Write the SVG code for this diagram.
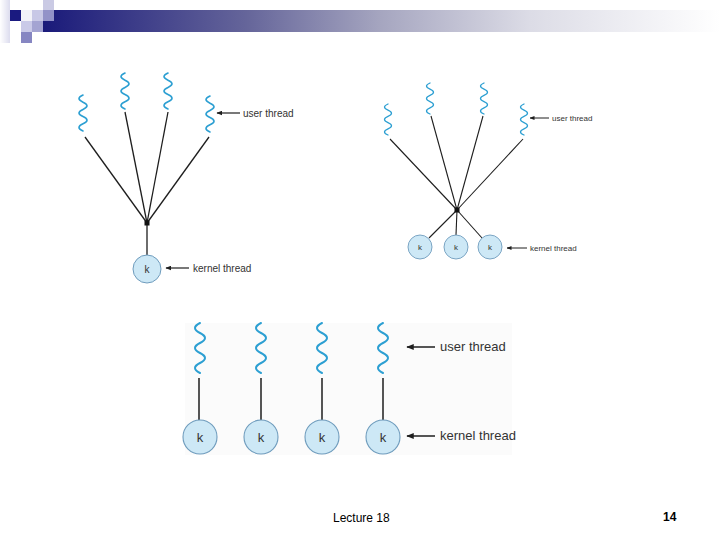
<svg xmlns="http://www.w3.org/2000/svg" width="720" height="540" viewBox="0 0 720 540">
<style>
.wave{fill:none;stroke:#2c9fd2;stroke-linecap:round}
.ln{stroke:#1e1e1e;fill:none}
.kc{fill:#cde8f6;stroke:#6f9cbd}
.lbl{font-family:"Liberation Sans",Arial,sans-serif;fill:#333}
.kt{font-family:"Liberation Sans",Arial,sans-serif;fill:#333;text-anchor:middle}
.arr{stroke:#1e1e1e;fill:none}
</style>
<defs>
<linearGradient id="bar" x1="0" y1="0" x2="1" y2="0">
<stop offset="0" stop-color="#1a1a7a"/>
<stop offset="0.3" stop-color="#65659a"/>
<stop offset="0.5" stop-color="#a6a6c0"/>
<stop offset="0.72" stop-color="#dcdce6"/>
<stop offset="1" stop-color="#ffffff"/>
</linearGradient>
<linearGradient id="lft" x1="0" y1="0" x2="1" y2="0">
<stop offset="0" stop-color="#ffffff"/>
<stop offset="1" stop-color="#dcdcee"/>
</linearGradient>
<marker id="ah" viewBox="0 0 10 8" refX="9" refY="4" markerWidth="5" markerHeight="4" orient="auto" markerUnits="userSpaceOnUse">
<path d="M0,0 L10,4 L0,8 Z" fill="#1e1e1e"/>
</marker>
<marker id="ahL" viewBox="0 0 10 8" refX="9" refY="4" markerWidth="8" markerHeight="6" orient="auto" markerUnits="userSpaceOnUse">
<path d="M0,0 L10,4 L0,8 Z" fill="#1e1e1e"/>
</marker>
<marker id="ahM" viewBox="0 0 10 8" refX="9" refY="4" markerWidth="6" markerHeight="5" orient="auto" markerUnits="userSpaceOnUse">
<path d="M0,0 L10,4 L0,8 Z" fill="#1e1e1e"/>
</marker>
<path id="w1" d="M0,0 Q-8,3.6 0,7.2 T0,14.4 T0,21.6 T0,28.8 T0,36"/>
<path id="w2" d="M0,0 Q-7,3.1 0,6.2 T0,12.4 T0,18.6 T0,24.8 T0,31"/>
<path id="w3" d="M0,0 Q-10,5 0,10 T0,20 T0,30 T0,40 T0,50"/>
</defs>

<g id="header">
<rect x="0" y="0" width="10" height="43" fill="url(#lft)"/>
<rect x="43" y="10" width="677" height="22" fill="url(#bar)"/>
<rect x="10" y="10" width="11" height="11" fill="#1a1a80"/>
<rect x="21" y="10" width="11" height="11" fill="#f2f2f8"/>
<rect x="32" y="10" width="11" height="11" fill="#c8c8e6"/>
<rect x="43" y="0" width="11" height="10" fill="#cacae4"/>
<rect x="43" y="10" width="11" height="11" fill="#9292c8"/>
<rect x="21" y="21" width="11" height="11" fill="#cacae8"/>
<rect x="32" y="21" width="11" height="11" fill="#a4a4d2"/>
<rect x="21" y="32" width="11" height="11" fill="#8686c2"/>
</g>

<g id="backgrounds">
<rect x="185" y="323" width="327" height="132" fill="#fbfbfb"/>
</g>

<g id="connectors">
<g class="ln" stroke-width="1.3">
<line x1="85" y1="137" x2="147" y2="223"/>
<line x1="125" y1="112" x2="147" y2="223"/>
<line x1="168" y1="112" x2="147" y2="223"/>
<line x1="209" y1="137" x2="147" y2="223"/>
<line x1="147" y1="223" x2="147" y2="255"/>
</g>
<g class="ln" stroke-width="1.1">
<line x1="390" y1="139" x2="457" y2="210"/>
<line x1="431" y1="116" x2="457" y2="210"/>
<line x1="483" y1="116" x2="457" y2="210"/>
<line x1="523" y1="139" x2="457" y2="210"/>
<line x1="457" y1="210" x2="429" y2="238"/>
<line x1="457" y1="210" x2="456" y2="235"/>
<line x1="457" y1="210" x2="482" y2="238"/>
</g>
<g class="ln" stroke-width="1.5">
<line x1="199" y1="378" x2="199" y2="420"/>
<line x1="261" y1="378" x2="261" y2="420"/>
<line x1="322" y1="378" x2="322" y2="420"/>
<line x1="383" y1="378" x2="383" y2="420"/>
</g>
<g class="arr">
<line x1="240" y1="113" x2="217" y2="113" stroke-width="1.2" marker-end="url(#ahM)"/>
<line x1="189" y1="268" x2="166" y2="268" stroke-width="1.2" marker-end="url(#ahM)"/>
<line x1="549" y1="118" x2="530" y2="118" stroke-width="1" marker-end="url(#ah)"/>
<line x1="527" y1="248" x2="507" y2="248" stroke-width="1" marker-end="url(#ah)"/>
<line x1="435" y1="347" x2="407" y2="347" stroke-width="1.5" marker-end="url(#ahL)"/>
<line x1="435" y1="436" x2="407" y2="436" stroke-width="1.5" marker-end="url(#ahL)"/>
</g>
</g>

<g id="many-to-one">
<g id="m1-user-threads" class="wave" stroke-width="1.6">
<use href="#w1" x="83" y="95"/>
<use href="#w1" x="125" y="73"/>
<use href="#w1" x="168" y="73"/>
<use href="#w1" x="210" y="96"/>
</g>
<rect id="m1-junction" x="144.5" y="220.5" width="5" height="5" fill="#111"/>
<g id="m1-kernel">
<circle class="kc" cx="147" cy="269" r="14" stroke-width="1"/>
<text class="kt" x="147" y="273" font-size="10">k</text>
</g>
<text class="lbl" x="243" y="117" font-size="10">user thread</text>
<text class="lbl" x="193" y="272" font-size="10">kernel thread</text>
</g>

<g id="many-to-many">
<g id="m2-user-threads" class="wave" stroke-width="1.3">
<use href="#w2" x="388" y="104"/>
<use href="#w2" x="430" y="83"/>
<use href="#w2" x="484" y="83"/>
<use href="#w2" x="524" y="104"/>
</g>
<rect id="m2-junction" x="454.5" y="207.5" width="5" height="5" fill="#111"/>
<g id="m2-kernel-1"><circle class="kc" cx="420" cy="247" r="12" stroke-width="0.9"/><text class="kt" x="420" y="250" font-size="8">k</text></g>
<g id="m2-kernel-2"><circle class="kc" cx="456" cy="247" r="12" stroke-width="0.9"/><text class="kt" x="456" y="250" font-size="8">k</text></g>
<g id="m2-kernel-3"><circle class="kc" cx="490" cy="247" r="12" stroke-width="0.9"/><text class="kt" x="490" y="250" font-size="8">k</text></g>
<text class="lbl" x="552" y="121" font-size="8">user thread</text>
<text class="lbl" x="530" y="251" font-size="8">kernel thread</text>
</g>

<g id="one-to-one">
<g id="m3-user-threads" class="wave" stroke-width="2">
<use href="#w3" x="200" y="323"/>
<use href="#w3" x="261" y="323"/>
<use href="#w3" x="322" y="323"/>
<use href="#w3" x="383" y="323"/>
</g>
<g id="m3-kernel-1"><circle class="kc" cx="200" cy="437" r="17" stroke-width="1.1"/><text class="kt" x="200" y="442" font-size="13">k</text></g>
<g id="m3-kernel-2"><circle class="kc" cx="261" cy="437" r="17" stroke-width="1.1"/><text class="kt" x="261" y="442" font-size="13">k</text></g>
<g id="m3-kernel-3"><circle class="kc" cx="322" cy="437" r="17" stroke-width="1.1"/><text class="kt" x="322" y="442" font-size="13">k</text></g>
<g id="m3-kernel-4"><circle class="kc" cx="383" cy="437" r="17" stroke-width="1.1"/><text class="kt" x="383" y="442" font-size="13">k</text></g>
<text class="lbl" x="440" y="351" font-size="13">user thread</text>
<text class="lbl" x="440" y="440" font-size="13">kernel thread</text>
</g>

<g id="footer">
<text x="333" y="522" font-family="'Liberation Sans',Arial,sans-serif" font-size="12" fill="#000">Lecture 18</text>
<text x="663" y="521" font-family="'Liberation Sans',Arial,sans-serif" font-size="12" font-weight="bold" fill="#000">14</text>
</g>
</svg>
